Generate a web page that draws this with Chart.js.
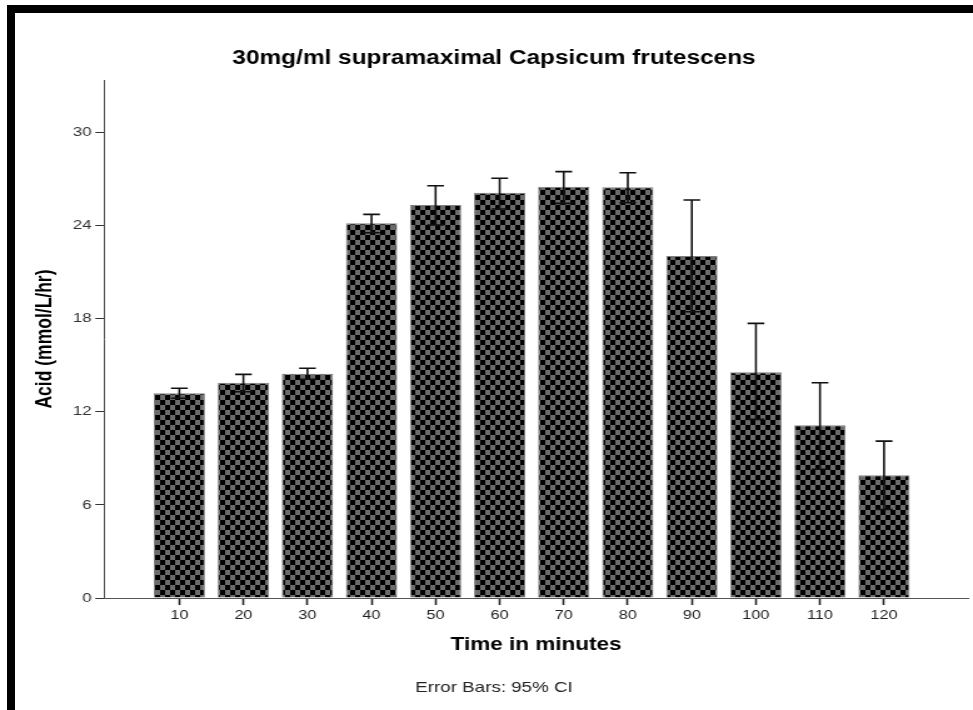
<!DOCTYPE html>
<html>
<head>
  <title>30mg/ml supramaximal Capsicum frutescens</title>
  <script src="https://cdn.jsdelivr.net/npm/chart.js"></script>
  <style>
    body {
      margin: 0;
      background: #fff;
      overflow: hidden;
    }

    /* the source picture is stretched sideways, so draw narrow and scale it */
    .wrap {
      position: absolute;
      left: 0;
      top: 0;
      width: 778px;
      height: 710px;
      transform: scaleX(1.2506);
      transform-origin: 0 0;
    }

    .edge {
      position: absolute;
      background: #000;
    }
  </style>
</head>
<body>
  <div class="wrap"><canvas id="acidChart"></canvas></div>
  <div class="edge" style="left:7px;top:5px;width:966px;height:8px"></div>
  <div class="edge" style="left:7px;top:5px;width:8px;height:705px"></div>
  <script>
    const minutes = [10, 20, 30, 40, 50, 60, 70, 80, 90, 100, 110, 120];
    const acidMean = [13.18, 13.86, 14.44, 24.12, 25.30, 26.09, 26.48, 26.44, 22.02, 14.53, 11.12, 7.90];
    const ciLow = [12.86, 13.28, 14.08, 23.52, 24.01, 25.04, 25.41, 25.45, 18.43, 11.50, 8.29, 5.70];
    const ciHigh = [13.50, 14.40, 14.79, 24.70, 26.54, 27.02, 27.45, 27.38, 25.62, 17.68, 13.86, 10.10];
    const yTicks = [0, 6, 12, 18, 24, 30];

    const canvas = document.getElementById('acidChart');
    const ctx = canvas.getContext('2d');

    // black / grey checker fill like the SPSS bars
    function checker() {
      const tile = document.createElement('canvas');
      tile.width = 8;
      tile.height = 10;
      const g = tile.getContext('2d');
      g.fillStyle = '#6b6b6b';
      g.fillRect(0, 0, 8, 10);
      g.fillStyle = '#000';
      g.fillRect(0, 0, 4, 5);
      g.fillRect(4, 5, 4, 5);
      return ctx.createPattern(tile, 'repeat');
    }

    const errorBars = {
      id: 'errorBars',
      afterDatasetsDraw(chart) {
        const { ctx, scales: { x, y } } = chart;
        ctx.save();
        ctx.strokeStyle = '#111';
        ctx.lineWidth = 1.6;
        minutes.forEach((m, i) => {
          const px = x.getPixelForValue(m);
          const top = y.getPixelForValue(ciHigh[i]);
          const bot = y.getPixelForValue(ciLow[i]);
          ctx.beginPath();
          ctx.moveTo(px, top);
          ctx.lineTo(px, bot);
          ctx.moveTo(px - 6.7, top);
          ctx.lineTo(px + 6.7, top);
          ctx.moveTo(px - 6.7, bot);
          ctx.lineTo(px + 6.7, bot);
          ctx.stroke();
        });
        ctx.restore();
      }
    };

    const font = 'Liberation Sans, Arial, sans-serif';

    new Chart(ctx, {
      type: 'bar',
      data: {
        datasets: [{
          label: 'Acid',
          data: minutes.map((m, i) => ({ x: m, y: acidMean[i] })),
          backgroundColor: checker(),
          borderColor: '#808080',
          borderWidth: 1,
          categoryPercentage: 0.8,
          barPercentage: 1
        }]
      },
      options: {
        responsive: true,
        maintainAspectRatio: false,
        animation: false,
        layout: { padding: { left: 16, right: 4, top: 0, bottom: 0 } },
        plugins: {
          legend: { display: false },
          tooltip: { enabled: false },
          title: {
            display: true,
            text: '30mg/ml supramaximal Capsicum frutescens',
            color: '#000',
            font: { family: font, size: 19.5, weight: 'bold', lineHeight: 1.2 },
            padding: { top: 46.8, bottom: 9.8 }
          },
          subtitle: {
            display: true,
            position: 'bottom',
            text: 'Error Bars: 95% CI',
            color: '#222',
            font: { family: font, size: 15, lineHeight: 1.2 },
            padding: { top: 23.2, bottom: 13 }
          }
        },
        scales: {
          x: {
            type: 'linear',
            min: -1.75,
            max: 133.1,
            offset: false,
            afterBuildTicks: (scale) => { scale.ticks = minutes.map(v => ({ value: v })); },
            afterFit: (scale) => { scale.height = 57.8; },
            grid: { display: true, drawOnChartArea: false, offset: false, tickLength: 7, tickColor: '#222', tickWidth: 1.6 },
            border: { color: '#555', width: 1 },
            ticks: { color: '#222', padding: 3, font: { family: font, size: 13 } },
            title: {
              display: true,
              text: 'Time in minutes',
              color: '#000',
              font: { family: font, size: 18, weight: 'bold', lineHeight: 1.2 },
              padding: { top: 0, bottom: 0 }
            }
          },
          y: {
            min: 0,
            max: 33.35,
            afterBuildTicks: (scale) => { scale.ticks = yTicks.map(v => ({ value: v })); },
            afterFit: (scale) => { scale.width = 67.2; },
            grid: { display: true, drawOnChartArea: false, tickLength: 7, tickColor: '#333' },
            border: { color: '#555', width: 1 },
            ticks: { color: '#333', padding: 3, font: { family: font, size: 13.5 } },
            title: {
              display: true,
              text: 'Acid (mmol/L/hr)',
              color: '#000',
              font: { family: font, size: 17.5, weight: 'bold', lineHeight: 1.2 },
              padding: { top: 9.5, bottom: 0 }
            }
          }
        }
      },
      plugins: [errorBars]
    });
  </script>
</body>
</html>
